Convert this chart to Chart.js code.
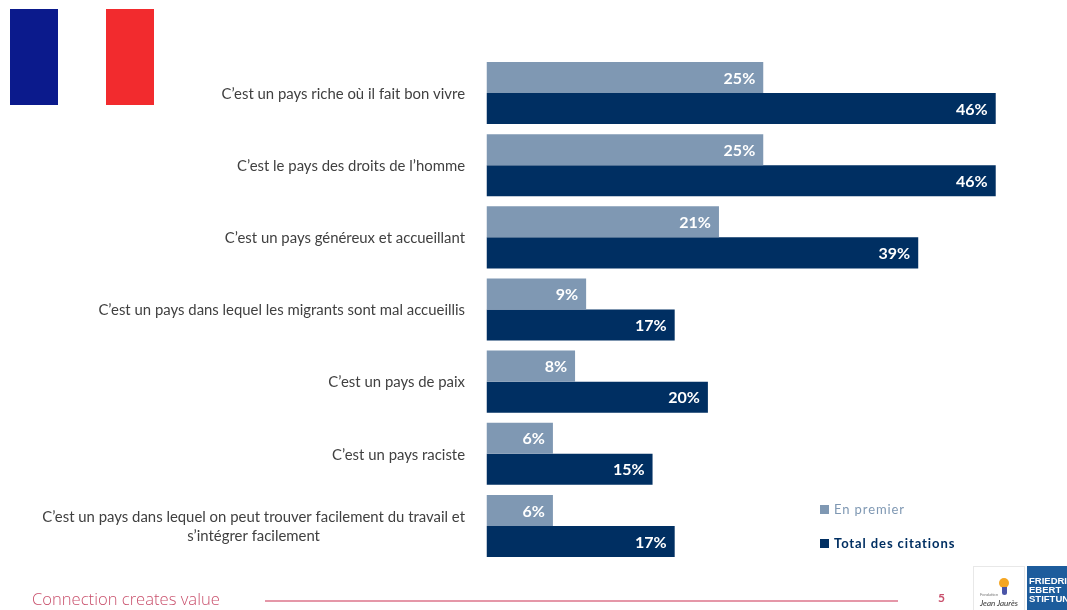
<!DOCTYPE html>
<html lang="fr">
<head>
<meta charset="utf-8">
<title>Image de la France</title>
<script src="https://cdn.jsdelivr.net/npm/chart.js@4/dist/chart.umd.min.js"></script>
<style>
  html, body { margin: 0; padding: 0; background: #fff; }
  body { position: relative; width: 1067px; height: 610px; overflow: hidden; font-family: Lato, sans-serif; }
  canvas { position: absolute; left: 0; top: 0; }
  .bloc { position: absolute; }
  .legende { position: absolute; left: 820px; font-size: 13px; letter-spacing: .9px; white-space: nowrap; line-height: 16px; }
  .legende i { display: inline-block; width: 9px; height: 9px; margin-right: 5px; }
  #slogan { position: absolute; left: 32px; top: 587px; font: 300 16.6px "Open Sans", sans-serif; color: #c9506c; white-space: nowrap; }
  #page { position: absolute; left: 938px; top: 590px; font: bold 12px Lato, sans-serif; color: #c9506c; }
  #jaures { position: absolute; left: 973px; top: 566px; width: 50px; height: 43px; border: 1px solid #e8e8e8; background: #fff; }
  #jaures span { position: absolute; left: 0; width: 50px; text-align: center; color: #333; }
  #jaures b { position: absolute; }
  #ebert { position: absolute; left: 1027px; top: 566px; width: 40px; height: 44px; background: #1d5c9c; overflow: hidden; color: #fff; font: bold 9.5px/9px "Liberation Sans", sans-serif; white-space: nowrap; padding-top: 10px; box-sizing: border-box; padding-left: 2px; }
</style>
</head>
<body>
<canvas id="grafico" width="1067" height="610"></canvas>

<!-- drapeau -->
<div class="bloc" style="left:10px;top:9px;width:48px;height:96px;background:#0b1a8c"></div>
<div class="bloc" style="left:106px;top:9px;width:48px;height:96px;background:#f22b2e"></div>

<div id="legendes"></div>

<!-- pied de page -->
<div id="slogan">Connection creates value</div>
<div class="bloc" style="left:265px;top:600px;width:633px;height:2px;background:#e597a8"></div>
<div id="page">5</div>
<div id="jaures">
  <b style="left:25px;top:11px;width:10px;height:10px;border-radius:50%;background:#f5a623"></b>
  <b style="left:28px;top:20px;width:5px;height:8px;border-radius:0 0 4px 4px;background:#4a55a8"></b>
  <span style="top:25px;font:4px Lato,sans-serif;color:#777;width:30px">Fondation</span>
  <span style="top:31px;font:italic 8px Lato,sans-serif">Jean Jaurès</span>
</div>
<div id="ebert">FRIEDRICH<br>EBERT<br>STIFTUNG</div>

<script>
const categories = [
    ["C’est un pays riche où il fait bon vivre"],
    ["C’est le pays des droits de l’homme"],
    ["C’est un pays généreux et accueillant"],
    ["C’est un pays dans lequel les migrants sont mal accueillis"],
    ["C’est un pays de paix"],
    ["C’est un pays raciste"],
    ["C’est un pays dans lequel on peut trouver facilement du travail et", "s’intégrer facilement"]
]
const enPremier = [25, 25, 21, 9, 8, 6, 6]
const totalCitations = [46, 46, 39, 17, 20, 15, 17]
const couleurPremier = '#7f98b3'
const couleurTotal = '#002f62'

// etiquettes des categories, alignees a droite sur le bord du bloc de texte
const pluginCategories = {
    id: 'etiquettesCategories',
    afterDraw: (chart) => {
        const {ctx} = chart
        const y = chart.scales.y
        ctx.save()
        ctx.font = '14.9px Lato'
        ctx.fillStyle = '#404040'
        ctx.textAlign = 'center'
        ctx.textBaseline = 'middle'
        categories.forEach((lignes, i) => {
            const large = Math.max(...lignes.map(l => ctx.measureText(l).width))
            const centre = 465 - large / 2
            const milieu = y.getPixelForValue(i)
            lignes.forEach((l, n) => {
                ctx.fillText(l, centre, milieu + 1 + (n - (lignes.length - 1) / 2) * 19)
            })
        })
        ctx.restore()
    }
}

// pourcentages en blanc a l'interieur du bout des barres
const pluginValeurs = {
    id: 'valeursBarres',
    afterDatasetsDraw: (chart) => {
        const {ctx} = chart
        ctx.save()
        ctx.font = 'bold 16px Lato'
        ctx.fillStyle = '#ffffff'
        ctx.textAlign = 'right'
        ctx.textBaseline = 'middle'
        chart.data.datasets.forEach((ds, d) => {
            chart.getDatasetMeta(d).data.forEach((barre, i) => {
                ctx.fillText(ds.data[i] + '%', barre.x - 8, barre.y + 1)
            })
        })
        ctx.restore()
    }
}

const grafico = new Chart(document.getElementById('grafico').getContext('2d'), {
    type: 'bar',
    data: {
        labels: categories,
        datasets: [
            {label: 'En premier', data: enPremier, backgroundColor: couleurPremier},
            {label: 'Total des citations', data: totalCitations, backgroundColor: couleurTotal}
        ]
    },
    plugins: [pluginCategories, pluginValeurs],
    options: {
        indexAxis: 'y',
        responsive: false,
        animation: false,
        layout: {padding: {left: 486.5, right: 27, top: 57, bottom: 48}},
        datasets: {bar: {categoryPercentage: 0.86, barPercentage: 1, borderWidth: 0}},
        plugins: {legend: {display: false}, tooltip: {enabled: false}},
        scales: {
            x: {display: false, min: 0, max: 50},
            y: {display: false}
        }
    }
})

// legende construite a partir des series du graphique
const positionsLegende = [501, 535]
document.getElementById('legendes').innerHTML = grafico.data.datasets.map((ds, i) =>
    `<div class="legende" style="top:${positionsLegende[i]}px;color:${ds.backgroundColor};font-weight:${i ? 'bold' : 'normal'}"><i style="background:${ds.backgroundColor}"></i>${ds.label}</div>`
).join('')
</script>
</body>
</html>
